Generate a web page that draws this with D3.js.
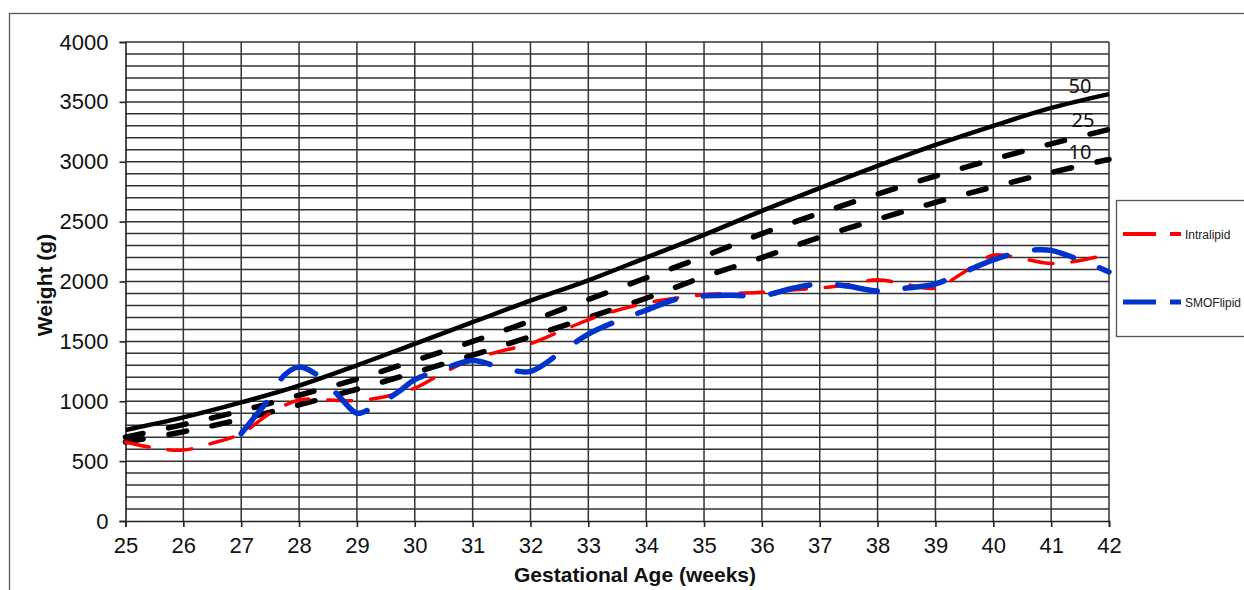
<!DOCTYPE html>
<html><head><meta charset="utf-8">
<script src="https://cdn.jsdelivr.net/npm/d3@7"></script>
<style>body{margin:0;background:#fff}svg{display:block}</style>
</head><body>
<svg id="c" width="1244" height="590"></svg>
<script>
const weeks = [25,26,27,28,29,30,31,32,33,34,35,36,37,38,39,40,41,42];
const p50 = [760,865,990,1130,1300,1480,1660,1840,2010,2200,2390,2590,2780,2965,3140,3300,3450,3565];
const p25 = [700,805,920,1050,1185,1340,1500,1670,1850,2030,2210,2400,2570,2730,2880,3020,3150,3270];
const p10 = [660,745,850,970,1100,1240,1385,1540,1700,1860,2040,2200,2370,2520,2660,2790,2910,3020];
const intraWeeks = [25,25.5,26,26.5,27,27.5,28,28.5,29,29.5,30,30.5,31,31.5,32,32.5,33,33.5,34,34.5,35,35.5,36,36.5,37,37.5,38,38.5,39,39.5,40,40.5,41,41.5,42];
const intraVals = [660,610,592,650,730,900,1010,1010,1005,1040,1110,1240,1350,1420,1480,1580,1680,1760,1820,1860,1890,1900,1910,1930,1945,1975,2015,1975,1945,2080,2220,2190,2150,2175,2230];
const smofWeeks = [27,27.25,27.5,27.75,28,28.25,28.5,28.75,29,29.25,29.5,29.75,30,30.5,31,31.5,32,32.5,33,33.5,34,34.5,35,35.5,36,36.5,37,37.5,38,38.5,39,39.5,40,40.5,40.75,41,41.5,42];
const smofVals = [730,880,1030,1220,1285,1240,1140,1010,900,940,1010,1090,1180,1270,1340,1280,1250,1400,1560,1670,1760,1850,1880,1885,1880,1940,1980,1960,1920,1945,1980,2080,2180,2250,2265,2260,2180,2080];
const yTicks = [0,500,1000,1500,2000,2500,3000,3500,4000];
const pctLabels = ["50","25","10"];
const legendNames = ["Intralipid","SMOFlipid"];

const svg = d3.select("#c");
const x = d3.scaleLinear().domain([25,42]).range([125.5,1109]);
const y = d3.scaleLinear().domain([0,4000]).range([521,42]);

// outer frame
svg.append("rect").attr("x",9.5).attr("y",13.5).attr("width",1300).attr("height",700)
  .attr("fill","none").attr("stroke","#555").attr("stroke-width",1.3);

// grid
const grid = svg.append("g");
grid.selectAll("line.h").data(d3.range(100,4001,100)).join("line")
  .attr("x1",x(25)).attr("x2",x(42)).attr("y1",d=>y(d)).attr("y2",d=>y(d))
  .attr("stroke","#333").attr("stroke-width",1.5);
grid.selectAll("line.v").data(d3.range(26,43,1)).join("line")
  .attr("x1",d=>x(d)).attr("x2",d=>x(d)).attr("y1",y(0)).attr("y2",y(4000))
  .attr("stroke","#333").attr("stroke-width",1.5);

// axes
const yAxis = d3.axisLeft(y).tickValues(yTicks).tickSize(6).tickPadding(11).tickFormat(d3.format("d"));
const gy = svg.append("g").attr("transform",`translate(${x(25)},0)`).call(yAxis);
const xAxis = d3.axisBottom(x).tickValues(weeks).tickSize(6).tickPadding(10).tickFormat(d3.format("d"));
const gx = svg.append("g").attr("transform",`translate(0,${y(0)})`).call(xAxis);
[gx,gy].forEach(g=>{
  g.select(".domain").attr("stroke","#222").attr("stroke-width",1.6);
  g.selectAll(".tick line").attr("stroke","#222").attr("stroke-width",1.6);
  g.selectAll(".tick text").attr("fill","#111").style("font-family","Liberation Sans, Arial, sans-serif").style("font-size","22px");
});

// axis titles
svg.append("text").attr("x",635).attr("y",582).attr("text-anchor","middle")
  .style("font-family","Liberation Sans, Arial, sans-serif").style("font-size","21px").style("font-weight","bold")
  .attr("fill","#111").text("Gestational Age (weeks)");
svg.append("text").attr("transform","translate(52,285) rotate(-90)").attr("text-anchor","middle")
  .style("font-family","Liberation Sans, Arial, sans-serif").style("font-size","21px").style("font-weight","bold")
  .attr("fill","#111").text("Weight (g)");

const line = d3.line().x(d=>x(d[0])).y(d=>y(d[1])).curve(d3.curveCatmullRom.alpha(0.5));
const plot = svg.append("g");
plot.append("path").datum(weeks.map((w,i)=>[w,p10[i]])).attr("d",line)
  .attr("fill","none").attr("stroke","#000").attr("stroke-width",5.5).attr("stroke-linecap","round").attr("stroke-dasharray","18,26");
plot.append("path").datum(weeks.map((w,i)=>[w,p25[i]])).attr("d",line)
  .attr("fill","none").attr("stroke","#000").attr("stroke-width",5.5).attr("stroke-linecap","round").attr("stroke-dasharray","18,26");
plot.append("path").datum(weeks.map((w,i)=>[w,p50[i]])).attr("d",line)
  .attr("fill","none").attr("stroke","#000").attr("stroke-width",4.5);
plot.append("path").datum(intraWeeks.map((w,i)=>[w,intraVals[i]])).attr("d",line)
  .attr("fill","none").attr("stroke","#ff0000").attr("stroke-width",3.5).attr("stroke-linecap","round").attr("stroke-dasharray","24,19");
plot.append("path").datum(smofWeeks.map((w,i)=>[w,smofVals[i]])).attr("d",line)
  .attr("fill","none").attr("stroke","#0033cc").attr("stroke-width",5.5).attr("stroke-linecap","round").attr("stroke-dasharray","40,28");

// percentile labels
const lblPos = [[1080,93],[1083,127],[1080,159]];
svg.selectAll("text.pct").data(pctLabels).join("text").attr("class","pct")
  .attr("x",(d,i)=>lblPos[i][0]).attr("y",(d,i)=>lblPos[i][1]).attr("text-anchor","middle")
  .style("font-family","Noto Sans, sans-serif").style("font-size","20px").attr("fill","#111").text(d=>d);

// legend
svg.append("rect").attr("x",1116.5).attr("y",200.5).attr("width",200).attr("height",136)
  .attr("fill","#fff").attr("stroke","#555").attr("stroke-width",1.3);
const legColors = ["#ff0000","#0033cc"], legW=[4,5], legY=[234,302];
legendNames.forEach((n,i)=>{
  svg.append("line").attr("x1",1123).attr("x2",1181).attr("y1",legY[i]).attr("y2",legY[i])
    .attr("stroke",legColors[i]).attr("stroke-width",legW[i]).attr("stroke-dasharray","33,14");
  svg.append("text").attr("x",1185).attr("y",legY[i]+4.5).style("font-family","Liberation Sans, Arial, sans-serif")
    .style("font-size","12px").attr("fill","#222").text(n);
});
</script>
</body></html>
